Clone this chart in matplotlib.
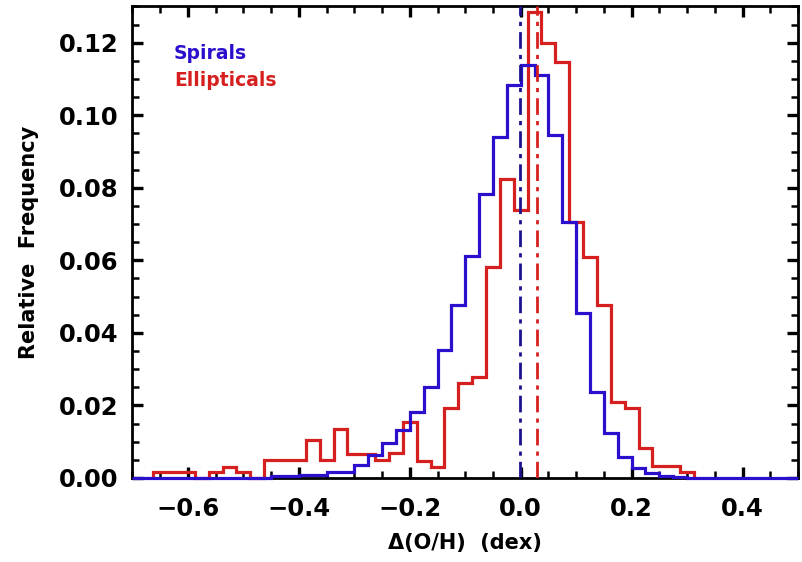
import numpy as np
import matplotlib
matplotlib.use("Agg")
import matplotlib.pyplot as plt
from matplotlib.ticker import MultipleLocator

# Relative frequency of the metallicity offset, 0.025 dex bins
bin_width = 0.025

spirals_start = -0.7
spirals_freq = [
    0, 0, 0, 0, 0, 0, 0, 0, 0, 0,
    0.0006, 0.0006, 0.0008, 0.0008, 0.0017, 0.0017, 0.0036, 0.0063,
    0.0096, 0.0132, 0.0183, 0.0252, 0.0353, 0.0477, 0.0613, 0.0783,
    0.0941, 0.1083, 0.1138, 0.1110, 0.0945, 0.0705, 0.0454, 0.0238,
    0.0123, 0.0059, 0.0027, 0.0013, 0.0006, 0.0003,
    0, 0, 0, 0, 0, 0, 0, 0,
]

ellipticals_start = -0.6625
ellipticals_freq = [
    0.0017, 0.0017, 0.0017, 0.0, 0.0017, 0.0031, 0.0017, 0.0,
    0.0050, 0.0050, 0.0050, 0.0105, 0.0050, 0.0135, 0.0066, 0.0066,
    0.0050, 0.0068, 0.0153, 0.0047, 0.0029, 0.0192, 0.0263, 0.0279,
    0.0582, 0.0823, 0.0739, 0.1285, 0.1198, 0.1147, 0.0705, 0.0610,
    0.0477, 0.0210, 0.0192, 0.0084, 0.0034, 0.0034, 0.0017,
]

# Median offsets of the two samples
spirals_median = -0.0015
ellipticals_median = 0.030

series_names = ["Spirals", "Ellipticals"]
xlabel = "\u0394(O/H)  (dex)"
ylabel = "Relative  Frequency"

BLUE = "#2a0fcc"
RED = "#d61f1f"

plt.rcParams["font.family"] = ["DejaVu Sans"]
plt.rcParams["font.weight"] = "bold"

fig = plt.figure(figsize=(8.02, 5.62), dpi=100)
ax = fig.add_axes([0.1652, 0.1495, 0.8298, 0.8391])

sp_edges = spirals_start + bin_width * np.arange(len(spirals_freq) + 1)
el_edges = ellipticals_start + bin_width * np.arange(len(ellipticals_freq) + 1)

ax.stairs(ellipticals_freq, el_edges, baseline=0, color=RED, lw=2.3,
          zorder=3, clip_on=False)
ax.stairs(spirals_freq, sp_edges, baseline=0, color=BLUE, lw=2.3,
          zorder=3.5, clip_on=False)

ax.axvline(spirals_median, color="#1c128f", lw=2.0, dashes=(6, 2.2, 1.5, 2.2),
           zorder=4)
ax.axvline(ellipticals_median, color=RED, lw=2.0, dashes=(6, 2.2, 1.5, 2.2),
           zorder=4)

ax.set_xlim(-0.7, 0.5)
ax.set_ylim(0, 0.13)

ax.xaxis.set_major_locator(MultipleLocator(0.2))
ax.xaxis.set_minor_locator(MultipleLocator(0.05))
ax.yaxis.set_major_locator(MultipleLocator(0.02))
ax.yaxis.set_minor_locator(MultipleLocator(0.005))

ax.tick_params(which="both", direction="in", top=True, right=True,
               colors="black", labelsize=17.5)
ax.tick_params(axis="x", which="both", pad=14)
ax.tick_params(axis="y", which="both", pad=10)
ax.tick_params(which="major", length=8, width=2.4)
ax.tick_params(which="minor", length=5, width=1.8)
ax.xaxis.set_major_formatter(plt.FuncFormatter(
    lambda v, p: ("\u2212%.1f" % abs(v)) if v < -1e-9 else "%.1f" % abs(v)))
ax.yaxis.set_major_formatter(plt.FuncFormatter(lambda v, p: "%.2f" % v))
for lab in ax.get_xticklabels() + ax.get_yticklabels():
    lab.set_fontweight("bold")

for sp in ax.spines.values():
    sp.set_linewidth(2.0)
    sp.set_color("black")

ax.set_xlabel(xlabel, fontsize=15, fontweight="bold", labelpad=8)
ax.set_ylabel(ylabel, fontsize=15, fontweight="bold", labelpad=14)

ax.text(0.062, 0.90, series_names[0], transform=ax.transAxes, color=BLUE,
        fontsize=13.5, fontweight="bold", va="center", ha="left")
ax.text(0.062, 0.843, series_names[1], transform=ax.transAxes, color=RED,
        fontsize=13.5, fontweight="bold", va="center", ha="left")

fig.savefig("out.png", dpi=100)
